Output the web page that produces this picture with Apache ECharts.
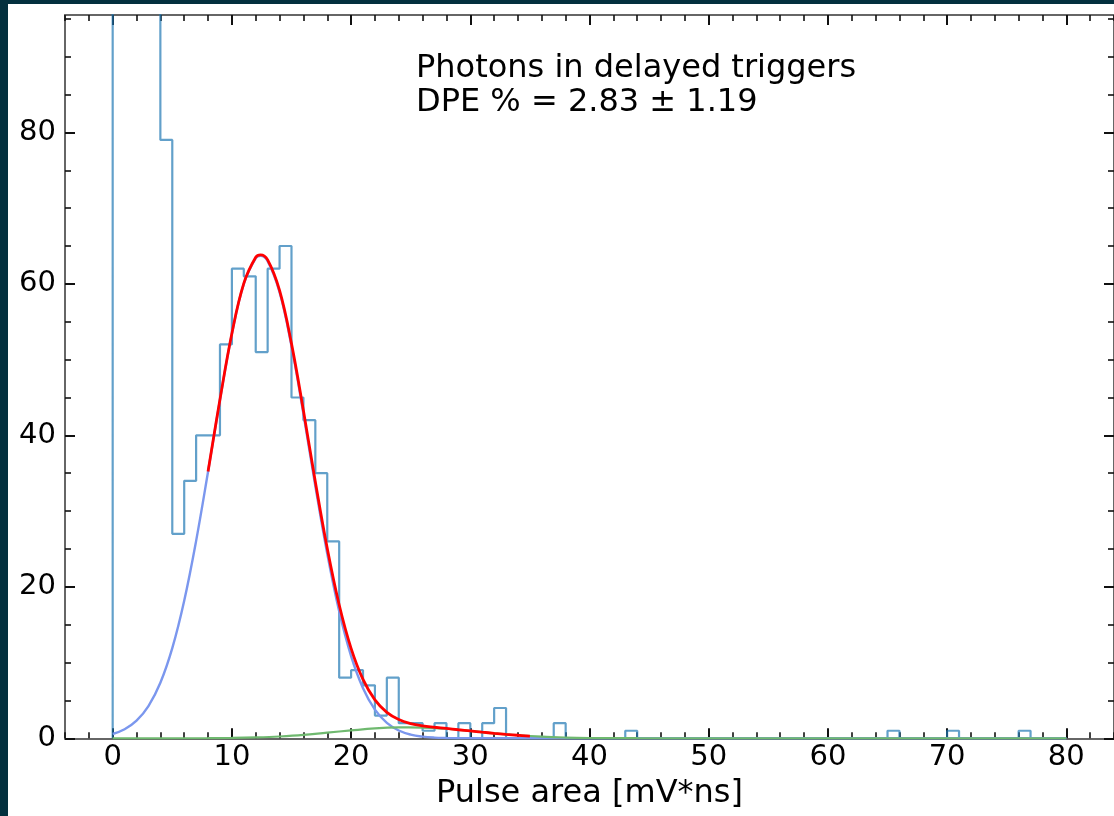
<!DOCTYPE html>
<html><head><meta charset="utf-8">
<script src="https://cdn.jsdelivr.net/npm/echarts@6/dist/echarts.min.js"></script>
<style>
html,body{margin:0;padding:0;background:#03303e;width:1114px;height:816px;overflow:hidden}
#chart{position:absolute;left:8px;top:4px;width:1106px;height:812px;background:#fff}
</style></head><body><div id="chart"></div>
<script>
// ---- data ----
const binStart = 0;
const binWidth = 1;
// counts per 1-unit bin, bins 0..79 (first four bins run off the top of the plot)
const counts = [180, 350, 290, 160, 79, 27, 34, 40, 40, 52,
                62, 61, 51, 62, 65, 45, 42, 35, 26, 8,
                9, 7, 3, 8, 2, 2, 1, 2, 0, 2,
                0, 2, 4, 0, 0, 0, 0, 2, 0, 0,
                0, 0, 0, 1, 0, 0, 0, 0, 0, 0,
                0, 0, 0, 0, 0, 0, 0, 0, 0, 0,
                0, 0, 0, 0, 0, 1, 0, 0, 0, 0,
                1, 0, 0, 0, 0, 0, 1, 0, 0, 0];

// 1PE component (blue)
const blueX = [0,1,2,3,4,5,6,7,8,9,10,11,12,12.4,13,14,15,16,17,18,19,20,21,22,23,24,25,26,27,28,29,30,35,40,50,60,70,80];
const blueY = [0.57,1.19,2.32,4.25,7.33,11.90,18.16,26.07,35.20,44.70,53.39,59.99,63.39,63.70,63.00,58.90,51.78,42.83,33.31,24.37,16.77,10.86,6.61,3.78,2.04,1.03,0.49,0.22,0.09,0.04,0.01,0,0,0,0,0,0,0];

// 2PE component (green)
const greenX = [0,4,8,10,12,14,16,18,20,22,24,24.8,26,28,30,32,34,36,38,40,42,44,50,60,70,80];
const greenY = [0,0,0.02,0.05,0.12,0.24,0.44,0.75,1.04,1.30,1.44,1.45,1.42,1.26,0.98,0.66,0.40,0.21,0.10,0.04,0.02,0.01,0,0,0,0];

// total fit (red)
const redX = [8,9,10,11,12,12.4,13,14,15,16,17,18,19,20,21,22,23,24,25,26,27,28,29,30,31,32,33,34,35];
const redY = [35.22,44.73,53.44,60.07,63.51,63.84,63.17,59.14,52.11,43.27,33.88,25.08,17.63,11.88,7.77,5.07,3.42,2.47,1.94,1.64,1.46,1.30,1.13,0.97,0.81,0.66,0.52,0.40,0.30];

const xMajor = [0,10,20,30,40,50,60,70,80];
const xMinor = [-4,-2,2,4,6,8,12,14,16,18,22,24,26,28,32,34,36,38,42,44,46,48,52,54,56,58,62,64,66,68,72,74,76,78,82,84];
const yMajor = [0,20,40,60,80];
const yMinor = [5,10,15,25,30,35,45,50,55,65,70,75,85,90,95];

const annotation1 = 'Photons in delayed triggers';
const annotation2 = 'DPE % = 2.83 \u00b1 1.19';
const xName = 'Pulse area [mV*ns]';

// ---- build ----
const histData = [[binStart, 0]];
for (let i = 0; i < counts.length; i++) histData.push([binStart + i * binWidth, counts[i]]);
histData.push([binStart + counts.length * binWidth, 0]);
const zip = (a, b) => a.map((v, i) => [v, b[i]]);

const FONT = 'DejaVu Sans';
const SPINE = {color: '#666', width: 2};
const TICK = {color: '#111', width: 2};
const MTICK = {color: '#111', width: 1.6};

function xAx(pos, ticks, len, line, labels) {
  const ax = {
    type: 'value', min: -4, max: 84, position: pos, gridIndex: 0,
    splitLine: {show: false},
    axisLine: {show: line, onZero: false, lineStyle: SPINE},
    axisTick: {show: true, inside: true, length: len, customValues: ticks, lineStyle: len > 8 ? TICK : MTICK},
    axisLabel: {show: labels, customValues: ticks, fontSize: 29, fontFamily: FONT, color: '#000', margin: 5}
  };
  if (labels) {
    ax.name = xName; ax.nameLocation = 'middle'; ax.nameGap = 39;
    ax.nameTextStyle = {fontSize: 32, fontFamily: FONT, color: '#000'};
  }
  return ax;
}
function yAx(pos, ticks, len, line, labels, interval) {
  return {
    type: 'value', min: 0, max: 95.5, interval: interval, position: pos, gridIndex: 0,
    splitLine: {show: false},
    axisLine: {show: line, onZero: false, lineStyle: SPINE},
    axisTick: {show: true, inside: true, length: len, customValues: ticks, lineStyle: len > 8 ? TICK : MTICK},
    axisLabel: {show: labels, customValues: ticks, fontSize: 29, fontFamily: FONT, color: '#000', margin: 9}
  };
}

const chart = echarts.init(document.getElementById('chart'), null, {renderer: 'canvas'});
chart.setOption({
  animation: false,
  backgroundColor: '#ffffff',
  grid: {left: 57, top: 11, width: 1052, height: 723.3, containLabel: false},
  xAxis: [
    xAx('bottom', xMajor, 10, true, true),
    xAx('bottom', xMinor, 6, false, false),
    xAx('top', xMajor, 10, true, false),
    xAx('top', xMinor, 6, false, false)
  ],
  yAxis: [
    yAx('left', yMajor, 10, true, true, 20),
    yAx('left', yMinor, 6, false, false, 5),
    yAx('right', yMajor, 10, true, false, 20),
    yAx('right', yMinor, 6, false, false, 5)
  ],
  series: [
    {type: 'line', step: 'end', data: histData, symbol: 'none', clip: true,
     lineStyle: {color: 'rgba(31,119,180,0.7)', width: 2.2}},
    {type: 'line', data: zip(blueX, blueY), symbol: 'none', smooth: 0.4, clip: true,
     lineStyle: {color: '#7b97ee', width: 2.4}},
    {type: 'line', data: zip(greenX, greenY), symbol: 'none', smooth: 0.4, clip: true,
     lineStyle: {color: '#6fb96f', width: 2.2}},
    {type: 'line', data: zip(redX, redY), symbol: 'none', smooth: 0.4, clip: true,
     lineStyle: {color: '#ff0000', width: 2.8}}
  ],
  graphic: [
    {type: 'text', x: 408, y: 64.3, style: {text: annotation1, font: '32px "DejaVu Sans"', fill: '#000', verticalAlign: 'middle', align: 'left'}},
    {type: 'text', x: 408, y: 99, style: {text: annotation2, font: '32px "DejaVu Sans"', fill: '#000', verticalAlign: 'middle', align: 'left'}}
  ]
});
</script></body></html>
